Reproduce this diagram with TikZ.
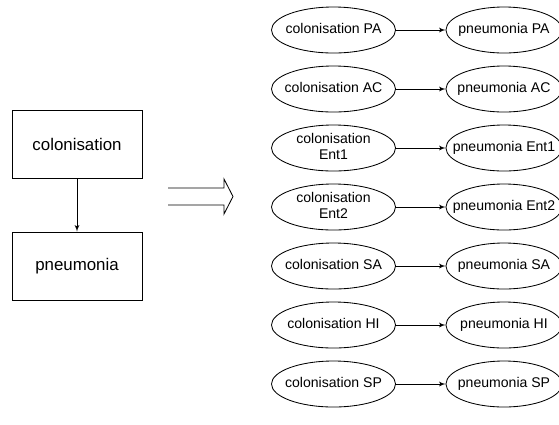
\documentclass[tikz,border=0pt]{standalone}
\usepackage{fontspec}
\setmainfont{Liberation Sans}
\usetikzlibrary{positioning,arrows,shapes}
\newcommand{\ellabel}[1]{\makebox[0pt]{\begin{tabular}{@{}c@{}}#1\end{tabular}}}
\tikzset{
    stage/.style = {
        draw,
        shape=rectangle,
        minimum height=1.7cm,
        minimum width=3.25cm,
        line width=0.6pt,
        font=\fontsize{12pt}{14pt}\selectfont
    },
    colon/.style = {
        draw,
        shape=ellipse,
        inner sep=0pt,
        minimum height=1.15cm,
        minimum width=3.1cm,
        line width=0.6pt,
        font=\fontsize{10pt}{11.5pt}\selectfont
    },
    pneu/.style = {
        colon,
        minimum width=2.9cm
    },
    >=latex',
}
\begin{document}
\begin{tikzpicture}[x=0.025cm, y=-0.025cm]
    \useasboundingbox (0,0) rectangle (559,424);

    % general model
    \node[stage] (col) at (77,144) {colonisation};
    \node[stage] (pneu) at (77,266) {pneumonia};
    \path[draw, ->, line width=0.6pt] (col.south) -- (pneu.north);

    % expansion arrow
    \draw[line width=0.6pt] (168,188) -- (224,188) -- (224,179) -- (233,196.5)
        -- (224,214) -- (224,205) -- (168,205);

    % pathogen specific models
    \node[colon] (colPA) at (333.5,30) {\ellabel{colonisation PA}};
    \node[pneu] (pneuPA) at (504,30) {\ellabel{pneumonia PA}};
    \node[colon] (colAC) at (333.5,89) {\ellabel{colonisation AC}};
    \node[pneu] (pneuAC) at (504,89) {\ellabel{pneumonia AC}};
    \node[colon] (colEnt1) at (333.5,148) {\ellabel{colonisation\\Ent1}};
    \node[pneu] (pneuEnt1) at (504,148) {\ellabel{pneumonia Ent1}};
    \node[colon] (colEnt2) at (333.5,207) {\ellabel{colonisation\\Ent2}};
    \node[pneu] (pneuEnt2) at (504,207) {\ellabel{pneumonia Ent2}};
    \node[colon] (colSA) at (333.5,266) {\ellabel{colonisation SA}};
    \node[pneu] (pneuSA) at (504,266) {\ellabel{pneumonia SA}};
    \node[colon] (colHI) at (333.5,325) {\ellabel{colonisation HI}};
    \node[pneu] (pneuHI) at (504,325) {\ellabel{pneumonia HI}};
    \node[colon] (colSP) at (333.5,384) {\ellabel{colonisation SP}};
    \node[pneu] (pneuSP) at (504,384) {\ellabel{pneumonia SP}};

    \foreach \p in {PA,AC,Ent1,Ent2,SA,HI,SP}
        \path[draw, ->, line width=0.6pt] (col\p.east) -- (pneu\p.west);
\end{tikzpicture}
\end{document}
